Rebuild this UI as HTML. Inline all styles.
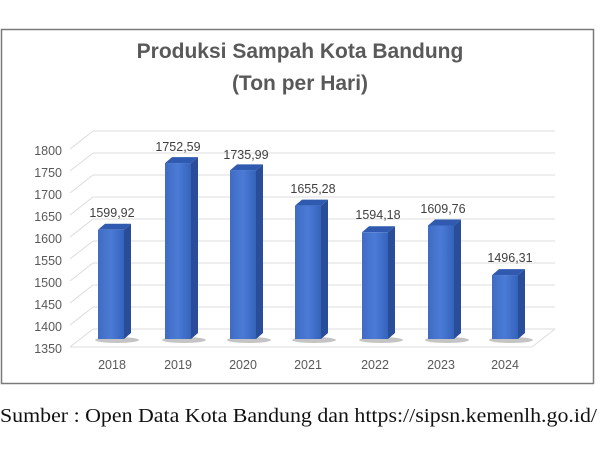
<!DOCTYPE html>
<html><head><meta charset="utf-8"><style>
html,body{margin:0;padding:0;background:#fff;}
body{width:600px;height:450px;overflow:hidden;position:relative;}
</style></head><body>
<svg width="600" height="450" xmlns="http://www.w3.org/2000/svg" style="position:absolute;left:0;top:0">
<defs>
<linearGradient id="fr" x1="0" x2="1" y1="0" y2="0">
<stop offset="0" stop-color="#3f6cc4"/><stop offset="0.5" stop-color="#4a7bd6"/><stop offset="1" stop-color="#3563bc"/>
</linearGradient>
</defs>
<rect x="1.5" y="29.5" width="592" height="354" fill="#fff" stroke="#7a7a7a" stroke-width="1.5"/>
<text x="300" y="58" text-anchor="middle" font-family="Liberation Sans, sans-serif" font-size="21" font-weight="bold" fill="#595959">Produksi Sampah Kota Bandung</text>
<text x="300" y="90" text-anchor="middle" font-family="Liberation Sans, sans-serif" font-size="21" font-weight="bold" fill="#595959">(Ton per Hari)</text>
<g stroke="#dcdcdc" stroke-width="1" fill="none">
<path d="M93 131H555M93 153H555M93 175H555M93 197H555M93 219H555M93 241H555M93 263H555M93 285H555M93 307H555M93 329H555"/>
<path d="M70 149L93 131M70 171L93 153M70 193L93 175M70 215L93 197M70 237L93 219M70 259L93 241M70 281L93 263M70 303L93 285M70 325L93 307M70 347L93 329"/>
<path d="M70 347H532L555 329"/>
</g>
<g font-family="Liberation Sans, sans-serif" font-size="12.5" fill="#595959" text-anchor="end">
<text x="62" y="155">1800</text><text x="62" y="177">1750</text><text x="62" y="199">1700</text><text x="62" y="221">1650</text><text x="62" y="243">1600</text><text x="62" y="265">1550</text><text x="62" y="287">1500</text><text x="62" y="309">1450</text><text x="62" y="331">1400</text><text x="62" y="353">1350</text>
</g>
<g id="bars"></g>
<g font-family="Liberation Sans, sans-serif" font-size="12.5" fill="#595959" text-anchor="middle">
<text x="112" y="369">2018</text><text x="178" y="369">2019</text><text x="243" y="369">2020</text><text x="308" y="369">2021</text><text x="375" y="369">2022</text><text x="441" y="369">2023</text><text x="505" y="369">2024</text>
</g>
<g font-family="Liberation Sans, sans-serif" font-size="12.5" fill="#404040" text-anchor="middle">
<text x="112" y="217">1599,92</text><text x="178" y="151">1752,59</text><text x="246" y="159">1735,99</text><text x="313" y="193">1655,28</text><text x="378" y="219">1594,18</text><text x="443" y="213">1609,76</text><text x="510" y="262">1496,31</text>
</g>
<text x="0" y="422" font-family="Liberation Serif, serif" font-size="20" fill="#111" textLength="597" lengthAdjust="spacingAndGlyphs">Sumber : Open Data Kota Bandung dan https://sipsn.kemenlh.go.id/</text>
</svg>
<script>
var v=[1599.92,1752.59,1735.99,1655.28,1594.18,1609.76,1496.31];
var xs=[98,165,230,295,362,428,492];
var g=document.getElementById('bars');var s='';
for(var i=0;i<7;i++){var t=339-(v[i]-1350)*0.437;var x=xs[i],w=26,d=7,c=6;
s+='<ellipse cx="'+(x+w/2+6)+'" cy="340" rx="22" ry="3" fill="#555" opacity="0.35"/>';
s+='<polygon points="'+(x+w)+','+t+' '+(x+w+d)+','+(t-c)+' '+(x+w+d)+','+(339-c)+' '+(x+w)+',339" fill="#2a4d99"/>';
s+='<polygon points="'+x+','+t+' '+(x+d)+','+(t-c)+' '+(x+w+d)+','+(t-c)+' '+(x+w)+','+t+'" fill="#2f5aaf"/>';
s+='<rect x="'+x+'" y="'+t+'" width="'+w+'" height="'+(339-t)+'" fill="url(#fr)"/>';}
g.innerHTML=s;
</script>
</body></html>
